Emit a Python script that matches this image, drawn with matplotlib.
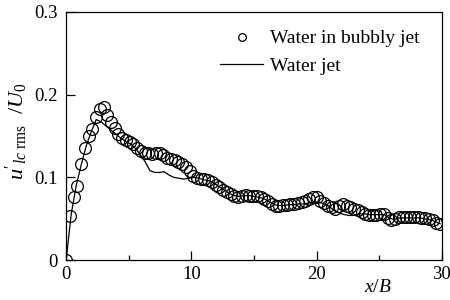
import numpy as np
import matplotlib
matplotlib.use("Agg")
import matplotlib.pyplot as plt
from matplotlib.ticker import MultipleLocator

plt.rcParams['font.family'] = ['Liberation Serif', 'DejaVu Serif']
plt.rcParams['mathtext.fontset'] = 'custom'
plt.rcParams['mathtext.rm'] = 'Liberation Serif'
plt.rcParams['mathtext.it'] = 'Liberation Serif:italic'

# water in bubbly jet (circles), spaced evenly from 0 to 29.85
bubbly_x = np.linspace(0, 29.85, 101)
bubbly_y = [0.000, 0.053, 0.076, 0.089, 0.116, 0.136, 0.150, 0.159, 0.173, 0.183,
            0.185, 0.175, 0.167, 0.160, 0.153, 0.148, 0.145, 0.143, 0.140, 0.135,
            0.132, 0.130, 0.129, 0.128, 0.130, 0.130, 0.127, 0.124, 0.122, 0.121,
            0.119, 0.116, 0.112, 0.108, 0.102, 0.099, 0.098, 0.098, 0.097, 0.094,
            0.091, 0.088, 0.085, 0.082, 0.080, 0.077, 0.076, 0.078, 0.079, 0.078,
            0.077, 0.077, 0.076, 0.074, 0.072, 0.068, 0.066, 0.066, 0.067, 0.067,
            0.068, 0.068, 0.069, 0.070, 0.072, 0.074, 0.076, 0.076, 0.072, 0.069,
            0.066, 0.064, 0.062, 0.066, 0.068, 0.066, 0.064, 0.062, 0.060, 0.058,
            0.056, 0.054, 0.055, 0.055, 0.056, 0.056, 0.051, 0.048, 0.050, 0.052,
            0.052, 0.052, 0.052, 0.052, 0.052, 0.051, 0.051, 0.050, 0.048, 0.045,
            0.044]

# water jet (solid line)
jet_x = [0, 0.4, 0.8, 1.2, 1.6, 2.0, 2.4, 2.8, 3.2, 3.6, 4.0, 4.4, 4.8, 5.2, 5.6,
         5.9, 6.3, 6.7, 7.1, 7.5, 7.8, 8.2, 8.6, 9.0, 9.4, 9.8, 10.2, 10.6, 11.0,
         11.4, 11.8, 12.2, 12.6, 13.0, 13.4, 13.8, 14.2, 14.6, 15.0, 15.4, 15.8,
         16.2, 16.6, 17.0, 17.4, 17.8, 18.2, 18.6, 19.0, 19.4, 19.8, 20.2, 20.6,
         21.0, 21.4, 21.8, 22.2, 22.6, 23.0, 23.4, 23.8, 24.2, 24.6, 25.0, 25.4,
         25.8, 26.2, 26.6, 27.0, 27.4, 27.8, 28.2, 28.6, 29.0, 29.4, 29.85]
jet_y = [0.000, 0.055, 0.090, 0.115, 0.138, 0.155, 0.170, 0.167, 0.162, 0.157,
         0.152, 0.147, 0.143, 0.140, 0.134, 0.128, 0.119, 0.108, 0.106, 0.106,
         0.107, 0.103, 0.100, 0.099, 0.098, 0.099, 0.100, 0.099, 0.097, 0.096,
         0.093, 0.089, 0.085, 0.081, 0.078, 0.077, 0.078, 0.078, 0.077, 0.076,
         0.074, 0.071, 0.067, 0.066, 0.066, 0.067, 0.067, 0.068, 0.068, 0.069,
         0.070, 0.070, 0.068, 0.065, 0.060, 0.057, 0.055, 0.054, 0.054, 0.056,
         0.056, 0.055, 0.055, 0.055, 0.055, 0.051, 0.049, 0.051, 0.051, 0.051,
         0.051, 0.051, 0.050, 0.049, 0.047, 0.044]

x_ticks = [0, 10, 20, 30]
y_ticks = [0, 0.1, 0.2, 0.3]
y_tick_labels = ["0", "0.1", "0.2", "0.3"]

fig = plt.figure(figsize=(4.5, 3.0), dpi=100)
ax = fig.add_axes([0.147, 0.133, 0.835, 0.827])

ax.plot(bubbly_x, bubbly_y, linestyle='none', marker='o', markersize=8.5,
        markerfacecolor='none', markeredgecolor='k', markeredgewidth=0.9,
        label="Water in bubbly jet", zorder=3)
ax.plot(jet_x, jet_y, color='k', linewidth=0.9, label="Water jet", zorder=2)

ax.set_xlim(0, 30)
ax.set_ylim(0, 0.3)
ax.set_xticks(x_ticks)
ax.set_xticklabels([str(t) for t in x_ticks])
ax.xaxis.set_minor_locator(MultipleLocator(5))
ax.set_yticks(y_ticks)
ax.set_yticklabels(y_tick_labels)
ax.tick_params(which='both', direction='in', top=False, right=False,
               labelsize=13.5)
ax.tick_params(axis='y', pad=6)
ax.tick_params(axis='x', pad=4)
ax.tick_params(which='major', length=6.5, width=0.9)
ax.tick_params(which='minor', length=3.5, width=0.9)
for spine in ax.spines.values():
    spine.set_linewidth(0.9)

ax.set_xlabel("$x/B$", fontsize=14)
ax.xaxis.set_label_coords(0.83, -0.075)
ax.set_ylabel(r"$u'_{lc\ \mathrm{rms}}$  /$U_0$", fontsize=16)
ax.yaxis.set_label_coords(-0.097, 0.52)

leg = ax.legend(loc='upper right', frameon=False, fontsize=14,
                handlelength=2.2, handletextpad=0.36, labelspacing=0.5,
                bbox_to_anchor=(0.962, 0.96), borderaxespad=0.0, markerscale=0.65)

fig.savefig("out.png", dpi=100)
